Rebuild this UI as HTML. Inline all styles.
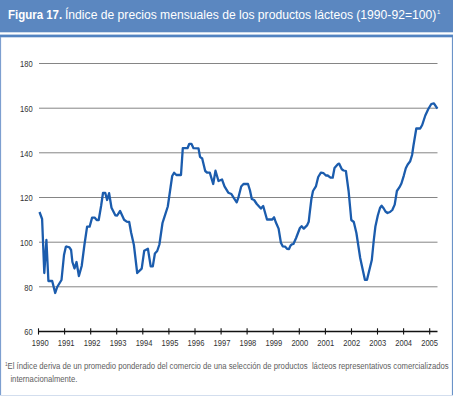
<!DOCTYPE html>
<html><head><meta charset="utf-8">
<style>
html,body{margin:0;padding:0;}
body{width:453px;height:396px;position:relative;overflow:hidden;background:#fff;font-family:"Liberation Sans",sans-serif;}
#title{position:absolute;left:8.6px;top:6.7px;color:#fff;font-size:12px;white-space:nowrap;line-height:16px;}
#title span{position:absolute;top:0;white-space:pre;} #t1{left:-0.9px;font-weight:bold;transform:scaleX(0.955);transform-origin:0 0;} #t2{left:56.9px;transform:scaleX(1.011);transform-origin:0 0;} #t3{left:428.3px;font-size:6px;top:-3px !important;}

svg{position:absolute;left:0;top:0;}
</style></head><body>
<svg width="453" height="396" viewBox="0 0 453 396">
<rect x="0" y="0" width="453" height="32.3" fill="#5b87c0"/>
<rect x="0" y="34.6" width="453" height="2.7" fill="#5283c1"/>
<rect x="0" y="37" width="1.1" height="359" fill="#7d9fd0"/>
<rect x="451.9" y="37" width="1.1" height="359" fill="#6a93c8"/>
<rect x="0" y="395" width="453" height="1" fill="#d3deee"/>
</svg>
<div id="title"><span id="t1">Figura 17.</span><span id="t2">Índice de precios mensuales de los productos lácteos (1990-92=100)</span><span id="t3">1</span></div>
<svg width="453" height="396" viewBox="0 0 453 396">
<g font-family="Liberation Sans" font-size="8.6" fill="#333">
<line x1="39" y1="286.8" x2="437.5" y2="286.8" stroke="#858585" stroke-width="1"/>
<line x1="39" y1="242.2" x2="437.5" y2="242.2" stroke="#858585" stroke-width="1"/>
<line x1="39" y1="197.5" x2="437.5" y2="197.5" stroke="#858585" stroke-width="1"/>
<line x1="39" y1="152.8" x2="437.5" y2="152.8" stroke="#858585" stroke-width="1"/>
<line x1="39" y1="108.2" x2="437.5" y2="108.2" stroke="#858585" stroke-width="1"/>
<line x1="39" y1="63.5" x2="437.5" y2="63.5" stroke="#858585" stroke-width="1"/>

<text transform="translate(32.6,335.42) scale(0.88,1)" text-anchor="end">60</text>
<text transform="translate(32.6,290.75) scale(0.88,1)" text-anchor="end">80</text>
<text transform="translate(32.6,246.08) scale(0.88,1)" text-anchor="end">100</text>
<text transform="translate(32.6,201.41) scale(0.88,1)" text-anchor="end">120</text>
<text transform="translate(32.6,156.74) scale(0.88,1)" text-anchor="end">140</text>
<text transform="translate(32.6,112.07) scale(0.88,1)" text-anchor="end">160</text>
<text transform="translate(32.6,67.40) scale(0.88,1)" text-anchor="end">180</text>

<text transform="translate(40.20,345.6) scale(0.88,1)" text-anchor="middle">1990</text>
<text transform="translate(66.16,345.6) scale(0.88,1)" text-anchor="middle">1991</text>
<text transform="translate(92.12,345.6) scale(0.88,1)" text-anchor="middle">1992</text>
<text transform="translate(118.08,345.6) scale(0.88,1)" text-anchor="middle">1993</text>
<text transform="translate(144.04,345.6) scale(0.88,1)" text-anchor="middle">1994</text>
<text transform="translate(170.00,345.6) scale(0.88,1)" text-anchor="middle">1995</text>
<text transform="translate(195.96,345.6) scale(0.88,1)" text-anchor="middle">1996</text>
<text transform="translate(221.92,345.6) scale(0.88,1)" text-anchor="middle">1997</text>
<text transform="translate(247.88,345.6) scale(0.88,1)" text-anchor="middle">1998</text>
<text transform="translate(273.84,345.6) scale(0.88,1)" text-anchor="middle">1999</text>
<text transform="translate(299.80,345.6) scale(0.88,1)" text-anchor="middle">2000</text>
<text transform="translate(325.76,345.6) scale(0.88,1)" text-anchor="middle">2001</text>
<text transform="translate(351.72,345.6) scale(0.88,1)" text-anchor="middle">2002</text>
<text transform="translate(377.68,345.6) scale(0.88,1)" text-anchor="middle">2003</text>
<text transform="translate(403.64,345.6) scale(0.88,1)" text-anchor="middle">2004</text>
<text transform="translate(429.60,345.6) scale(0.88,1)" text-anchor="middle">2005</text>

</g>
<line x1="38.5" y1="331.5" x2="437.5" y2="331.5" stroke="#111" stroke-width="1.3"/>
<line x1="38.5" y1="328.3" x2="38.5" y2="334.6" stroke="#111" stroke-width="1.1"/>
<line x1="64.6" y1="328.3" x2="64.6" y2="334.6" stroke="#111" stroke-width="1.1"/>
<line x1="90.7" y1="328.3" x2="90.7" y2="334.6" stroke="#111" stroke-width="1.1"/>
<line x1="116.7" y1="328.3" x2="116.7" y2="334.6" stroke="#111" stroke-width="1.1"/>
<line x1="142.8" y1="328.3" x2="142.8" y2="334.6" stroke="#111" stroke-width="1.1"/>
<line x1="168.9" y1="328.3" x2="168.9" y2="334.6" stroke="#111" stroke-width="1.1"/>
<line x1="195.0" y1="328.3" x2="195.0" y2="334.6" stroke="#111" stroke-width="1.1"/>
<line x1="221.1" y1="328.3" x2="221.1" y2="334.6" stroke="#111" stroke-width="1.1"/>
<line x1="247.1" y1="328.3" x2="247.1" y2="334.6" stroke="#111" stroke-width="1.1"/>
<line x1="273.2" y1="328.3" x2="273.2" y2="334.6" stroke="#111" stroke-width="1.1"/>
<line x1="299.3" y1="328.3" x2="299.3" y2="334.6" stroke="#111" stroke-width="1.1"/>
<line x1="325.4" y1="328.3" x2="325.4" y2="334.6" stroke="#111" stroke-width="1.1"/>
<line x1="351.5" y1="328.3" x2="351.5" y2="334.6" stroke="#111" stroke-width="1.1"/>
<line x1="377.5" y1="328.3" x2="377.5" y2="334.6" stroke="#111" stroke-width="1.1"/>
<line x1="403.6" y1="328.3" x2="403.6" y2="334.6" stroke="#111" stroke-width="1.1"/>
<line x1="429.7" y1="328.3" x2="429.7" y2="334.6" stroke="#111" stroke-width="1.1"/>

<polyline points="39.5,212 42.1,219 44.3,273 46.4,240 48.4,281 52.2,281 55.2,293 57.2,287 61.5,280 64,255 65.8,247 66.5,246.5 69.4,247.4 71.1,250 72.4,262 74.5,268.5 76.5,262 78.9,276 81.7,266 84.4,245 87.1,226.7 89.6,226.7 92.1,217.6 94.6,217.6 96.7,220 98.7,220 101.1,206 103,193 105.3,193 107.1,200 109.1,193.2 111.5,207.7 115.3,215.3 117.2,215.5 120.1,210.9 124.1,219.7 126.7,221.6 129.2,222 131.1,232.5 133.9,245 137.2,273 141.7,268.6 144.2,250.8 147.9,248.8 150.7,266.4 152.8,266.4 154.9,253.5 157.2,251 159.4,244.5 162.5,223 163.9,218.6 167.8,206.5 170.6,187 172.2,176 174.1,172.7 176.4,175 181,175 182.8,148.2 187.5,148.2 189.3,143.8 191.4,143.8 193.5,148.2 198.5,148.4 200,156.8 202.2,158.5 205.2,171 207,172.5 209.8,172.7 213.2,184 215.5,170.7 218.5,181 222,179.5 224.5,186.4 228.3,192.7 231.4,194 233.6,197.7 236.7,202.3 238.2,198.2 241.2,186.5 243.5,184 248,184 250,190.5 251.8,199 254.1,200 256.8,204 260.9,208.6 263.2,206 267,219.5 272.3,219.5 274.1,217.3 275.7,222 278.6,228.6 280.9,242.7 282.7,246.3 285,246.6 287,248.8 289,249 290.5,245.6 291.8,244.4 293.4,244 296.1,238 299.9,228 301.6,226.2 303.8,228.6 307,225.4 308.7,221.8 309.6,213.8 311.4,199 313,191 315.9,186.4 318.2,177 320.9,172.7 323.6,173.2 325.9,175.5 327.7,175.5 330.5,177.7 332.7,177.7 334.5,168 338,164 339.1,163.6 341.8,169.3 343.6,170.5 345.9,171 348.6,191 351.3,220 353.8,222 356.4,233 360.2,258 364.9,279.8 367,279.8 371.8,260 373.8,240 375.4,226.5 377.8,215.5 380,208 381.6,205.8 383.6,208.2 385.5,211.5 387.5,213 390,212 392.3,210 394.7,204.6 396.9,191 399.5,187.2 401.4,183.5 403.9,175.3 405.8,168.3 407.7,164.5 410.2,161.2 412.1,155 413.4,146 416.3,128.5 420.2,128.5 422.2,125 425.3,115.5 428.3,109 431.3,104 433.9,103.3 437.4,108.7" fill="none" stroke="#1b5cad" stroke-width="2.3" stroke-linejoin="round"/>
</svg>
<svg width="453" height="396" viewBox="0 0 453 396">
<g font-family="Liberation Sans" fill="#606060">
<text transform="translate(5.1,366.1) scale(0.874,1)" font-size="5.5">1</text>
<text transform="translate(7.6,368.7) scale(0.8775,1)" font-size="8.8" xml:space="preserve">El índice deriva de un promedio ponderado del comercio de una selección de productos  lácteos representativos comercializados</text>
<text transform="translate(10.4,381.9) scale(0.874,1)" font-size="8.8">internacionalmente.</text>
</g>
</svg>
</body></html>
